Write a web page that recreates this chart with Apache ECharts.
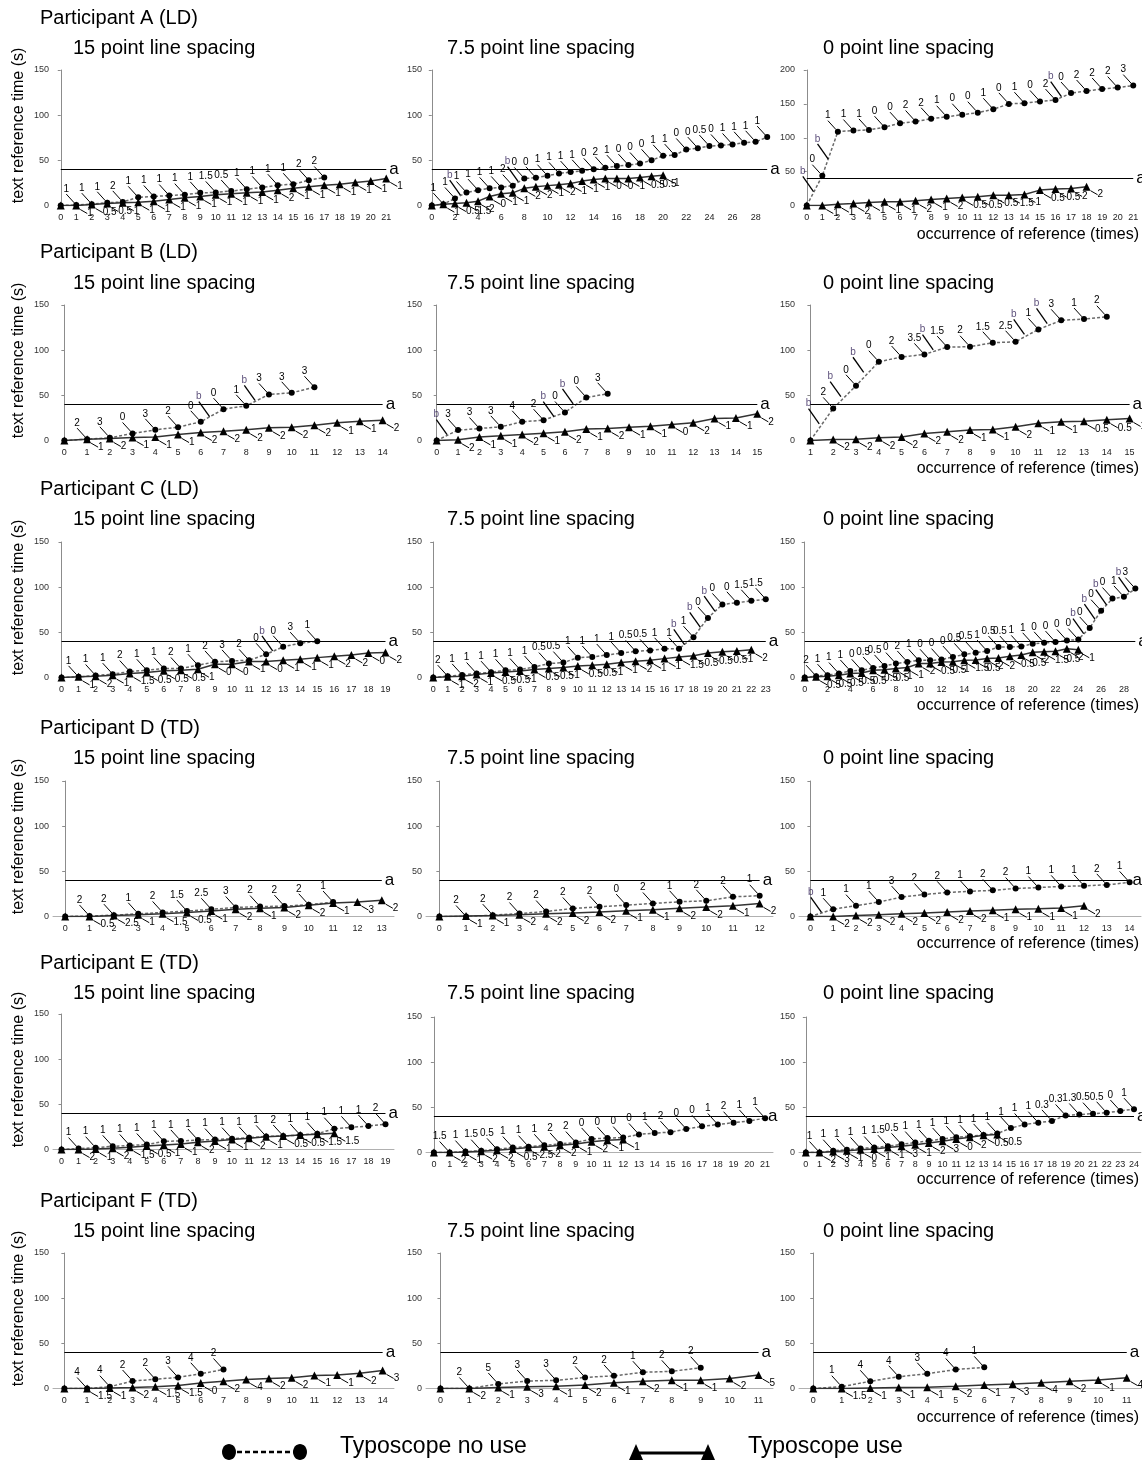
<!DOCTYPE html>
<html><head><meta charset="utf-8">
<script src="https://cdn.jsdelivr.net/npm/echarts@6/dist/echarts.min.js"></script>
<style>html,body{margin:0;padding:0;background:#fff}#c{width:1142px;height:1463px}</style>
</head><body><div id="c"></div>
<script>
// ---------------- DATA ----------------
const rowTitles = ['Participant A (LD)','Participant B (LD)','Participant C (LD)','Participant D (TD)','Participant E (TD)','Participant F (TD)'];
const colTitles = ['15 point line spacing','7.5 point line spacing','0 point line spacing'];
const yName = 'text reference time (s)';
const xName = 'occurrence of reference (times)';
const legendNames = ['Typoscope no use','Typoscope use'];
const thresholdValue = 40;

// Participant A
const A1_cats = [0,1,2,3,4,5,6,7,8,9,10,11,12,13,14,15,16,17,18,19,20,21];
const A1_noUse = [0,0.5,1.5,3,4,9,10,11,12,14,14.5,16,18,20,22.5,23.5,28,31];
const A1_noUseLbl = ['','1','1','1','2','1','1','1','1','1','1.5','0.5','1','1','1','1','2','2'];
const A1_use = [0,0,1,2.2,3,3.7,4.8,6.6,8.5,10,12,13,14,15,17,19,20.7,22.5,23.6,25.5,27,30];
const A1_useLbl = ['','1','0.5','0.5','1','1','1','1','1','1','1','1','1','1','2','1','1','1','1','1','1','1'];
const A1_b = [];

const A2_cats = [0,1,2,3,4,5,6,7,8,9,10,11,12,13,14,15,16,17,18,19,20,21,22,23,24,25,26,27,28,29];
const A2_noUse = [0,1.5,7.8,14.4,17,19,20,22,30,30.7,33,35.5,37,38.4,40,41.7,43.6,44.7,46.5,50,55,55.8,62,63.5,65.8,66.5,67.6,69.4,70.5,75.7];
const A2_noUseLbl = ['','1','1','1','1','1','1','2','0','0','1','1','1','1','0','2','1','0','0','0','1','1','0','0','0.5','0','1','1','1','1'];
const A2_use = [0,1.5,2.2,3,4.8,10,13,14,19,20.7,22,23,24.4,27,28.8,30,30,30,31,32.5,33.6];
const A2_useLbl = ['','1','0.5','1.5','2','0','1','1','2','2','1','2','1','1','1','0','0','1','0.5','0.5','1'];
const A2_b = [[2.5,11],[7.5,26]];

const A3_cats = [0,1,2,3,4,5,6,7,8,9,10,11,12,13,14,15,16,17,18,19,20,21];
const A3_noUse = [0,44,109,110.6,111.6,115.6,121.5,124,128,131,134,137,142,150,151,153.6,155.6,166,169,172,174,177];
const A3_noUseLbl = ['','0','1','1','1','0','0','2','2','1','0','0','1','0','1','0','2','0','2','2','2','3'];
const A3_use = [0,0,2,3,4.4,5.4,5.4,6.9,8.9,10.4,11.9,12.8,15.3,15.3,16.3,22.7,24.2,25.2,27.7];
const A3_useLbl = ['','1','1','2','1','1','1','2','1','2','0.5','0.5','0.5','1.5','1','0.5','0.5','2','2'];
const A3_b = [[0.45,20],[1.4,68],[16.4,160]];

// Participant B
const B1_cats = [0,1,2,3,4,5,6,7,8,9,10,11,12,13,14];
const B1_noUse = [0,1.5,3,7.8,11.8,14.8,20.7,34.7,38.4,51,52.8,59];
const B1_noUseLbl = ['','2','3','0','3','2','0','0','1','3','3','3'];
const B1_use = [0,1.5,2.2,3.3,4,6.6,8.9,10.3,11.8,14,14.8,17,19.6,21.4,22.5];
const B1_useLbl = ['','1','2','1','1','1','2','2','2','2','2','2','1','1','2'];
const B1_b = [[6.4,26],[8.4,44]];

const B2_cats = [0,1,2,3,4,5,6,7,8,9,10,11,12,13,14,15];
const B2_noUse = [0,11.5,13.3,15.1,20.7,22.5,31,47.7,51.7];
const B2_noUseLbl = ['','3','3','3','4','2','0','0','3'];
const B2_use = [0,0.7,4,5.2,6.6,8.1,9.6,12.6,13.3,14.8,15.9,17.7,19.6,24.4,25,29.5];
const B2_useLbl = ['','2','1','1','2','1','2','1','2','1','1','0','2','1','1','2'];
const B2_b = [[0.5,6],[5.5,26],[6.4,40]];

const B3_cats = [1,2,3,4,5,6,7,8,9,10,11,12,13,14,15];
const B3_noUse = [0,35.5,60.6,87.2,92.4,95.3,103.4,103.8,108.2,109.3,123,133,134.5,137];
const B3_noUseLbl = ['','2','0','0','2','3.5','1.5','2','1.5','2.5','1','3','1','2'];
const B3_use = [0,1,1.5,3,4,7.8,9.6,11.5,12.2,15.1,19.2,20.7,21.4,22.9,24.4];
const B3_useLbl = ['','2','2','2','2','2','2','1','1','2','1','1','0.5','0.5','1'];
const B3_b = [[1.4,18],[2.35,48],[3.35,75],[6.4,100],[10.4,117],[11.4,129]];

// Participant C
const C1_cats = [0,1,2,3,4,5,6,7,8,9,10,11,12,13,14,15,16,17,18,19];
const C1_noUse = [0,0.7,2.2,3.7,6.6,8,10,10,13.6,17.3,18.4,19,25.7,34,38,40];
const C1_noUseLbl = ['','1','1','1','2','1','1','2','1','2','3','2','0','0','3','1'];
const C1_use = [0,0.7,1.5,2.6,4.4,5.5,7.4,8,9.2,14.7,14.7,17.6,17.6,19,20.2,22,23.5,25,27.2,27.6];
const C1_useLbl = ['','1','2','1','1.5','0.5','0.5','0.5','1','0','0','1','0','1','1','1','2','2','0','2'];
const C1_b = [[12.4,29]];

const C2_cats = [0,1,2,3,4,5,6,7,8,9,10,11,12,13,14,15,16,17,18,19,20,21,22,23];
const C2_noUse = [0,1.5,2.9,4.4,5.9,8,8.8,11.7,15.4,16.5,22,22.7,24.9,27,29,30,31.8,31.8,44.6,65.9,80.9,82.7,84.9,86.7];
const C2_noUseLbl = ['','2','1','1','1','1','1','1','0.5','0.5','1','1','1','1','0.5','0.5','1','1','1','0','0','0','1.5','1.5'];
const C2_use = [0,0.7,1.5,3.3,5.1,6.2,7.3,8.8,9.9,11,12.8,13.5,14.6,16.5,17.9,19,20.9,22.7,24.1,27,28.5,29.3,30.7];
const C2_useLbl = ['','1','2','1','0.5','0.5','1','0.5','0.5','1','0.5','0.5','1','1','2','1','1','1.5','0.5','0.5','0.5','1','2'];
const C2_b = [[17.4,36],[18.5,55],[19.5,73]];

const C3_cats = [0,1,2,3,4,5,6,7,8,9,10,11,12,13,14,15,16,17,18,19,20,21,22,23,24,25,26,27,28,29];
const C3_noUse = [0,1.5,2.6,4.4,7.3,8,10.6,12.8,15.4,17.2,19,19,19.8,22.7,25.6,27.4,29.3,33.7,33.7,34.4,37.3,38.4,39.2,41,42,54.9,73.9,87.4,89.3,98.4];
const C3_noUseLbl = ['','2','1','1','1','0','0.5','0.5','0','2','1','0','0','0','0.5','0.5','1','0.5','0.5','1','1','0','0','0','0','0','0','0','1','3'];
const C3_use = [0,0.7,1.5,2.5,4.4,5,8,8.5,9.9,11,15.4,15.5,17.2,17.5,19,19.5,20.9,21.5,23.4,25,28,28.5,29,31.8,30.7];
const C3_useLbl = ['','0.5','0.5','0.5','0.5','0.5','0.5','0.5','1','1','2','0.5','0.5','1','1.5','0.5','2','2','0.5','0.5','2','1.5','0.5','2','1'];
const C3_b = [[24.5,48],[25.5,64],[26.5,80],[28.5,94]];

// Participant D
const D1_cats = [0,1,2,3,4,5,6,7,8,9,10,11,12,13];
const D1_noUse = [0,0.5,1.5,3,4.5,6,8,10,11,11.5,13,16];
const D1_noUseLbl = ['','2','2','1','2','1.5','2.5','3','2','2','2','1'];
const D1_use = [0,0,1,2,3,4.5,6,8,9,10,12.5,15,16,18];
const D1_useLbl = ['','0.5','2.5','1','1.5','0.5','1','2','1','2','2','1','3','2'];
const D1_b = [];

const D2_cats = [0,1,2,3,4,5,6,7,8,9,10,11,12];
const D2_noUse = [0,0,1.5,3.3,5.5,8.9,10.7,12.6,14.4,16.3,17.4,21.8,23];
const D2_noUseLbl = ['','2','2','2','2','2','2','0','2','1','2','2','1'];
const D2_use = [0,0.5,1,2,3,4,5,6.5,7.5,9,10.5,12,14.5];
const D2_useLbl = ['','1','1','2','2','2','2','1','1','2','2','1','2'];
const D2_b = [];

const D3_cats = [0,1,2,3,4,5,6,7,8,9,10,11,12,13,14];
const D3_noUse = [0,8,12,16,21.5,24.4,26.7,27.8,29,31,32,33.3,34,35,37.8];
const D3_noUseLbl = ['','1','1','1','3','2','2','1','2','2','1','1','1','2','1'];
const D3_use = [0,0,1,2,3,4,5,6,7,8,8.5,9.5,11.8];
const D3_useLbl = ['','2','2','2','2','2','2','2','1','1','1','1','2'];
const D3_b = [[0.5,4]];

// Participant E
const E1_cats = [0,1,2,3,4,5,6,7,8,9,10,11,12,13,14,15,16,17,18,19];
const E1_noUse = [0,1,2,3.5,4.5,5.5,9,9.5,10.5,11,12,13,14.5,15,16,17.5,23,24.5,26,28];
const E1_noUseLbl = ['','1','1','1','1','1','1','1','1','1','1','1','1','2','1','1','1','1','1','2'];
const E1_use = [0,0,0.5,1.5,2.5,4,5,6,8,9.5,11,12.5,14,15,16,17,18];
const E1_useLbl = ['','2','1','2','1.5','0.5','1','1','2','1','1','2','1','0.5','0.5','1.5','1.5'];
const E1_b = [];

const E2_cats = [0,1,2,3,4,5,6,7,8,9,10,11,12,13,14,15,16,17,18,19,20,21];
const E2_noUse = [0,0,1,2,3.5,5.5,6.5,8,9.5,11,15,16,16.5,20,21.5,22.5,26,29,31,33,35,38];
const E2_noUseLbl = ['','1.5','1','1.5','0.5','1','1','1','2','2','0','0','0','0','1','2','0','0','1','2','1','1'];
const E2_use = [0,0,0.5,1.5,2.5,4,5.5,6.5,8,9.5,12,13.5,14.5];
const E2_useLbl = ['','2','1','2','2','0.5','2.5','2','2','1','2','1','1'];
const E2_b = [];

const E3_cats = [0,1,2,3,4,5,6,7,8,9,10,11,12,13,14,15,16,17,18,19,20,21,22,23,24];
const E3_noUse = [0,0,2,3,4.5,5.5,7,9,11,13,15,17,18,19.5,21,27,31,33,35,41,42,43,44,46,48];
const E3_noUseLbl = ['','1','1','1','1','1','1.5','0.5','1','1','1','1','1','1','1','1','1','1','0.3','0.3','1.3','0.5','0.5','0','1'];
const E3_use = [0,0,1,2,3,4,5.5,7,8.5,10.5,12.5,15,17,19,20];
const E3_useLbl = ['','2','3','1','0','1','1','3','1','2','3','0','2','0.5','0.5'];
const E3_b = [];

// Participant F
const F1_cats = [0,1,2,3,4,5,6,7,8,9,10,11,12,13,14];
const F1_noUse = [0,0,2,8.3,10.3,12.3,16.3,21];
const F1_noUseLbl = ['','4','4','2','2','3','4','2'];
const F1_use = [0,0,0.5,1.2,2,3.2,6,8,10,11,12,14.3,15,17,20];
const F1_useLbl = ['','1.5','1','2','1.5','1.5','0','2','4','2','2','1','1','2','3'];
const F1_b = [];

const F2_cats = [0,1,2,3,4,5,6,7,8,9,10,11];
const F2_noUse = [0,0,5,8.3,9,12.3,14,18,19,23];
const F2_noUseLbl = ['','2','5','3','3','2','2','1','2','2'];
const F2_use = [0,0,1.2,2,2.4,4,6.3,8,9,9,11,15];
const F2_useLbl = ['','2','1','3','1','2','1','2','1','1','2','5'];
const F2_b = [];

const F3_cats = [0,1,2,3,4,5,6,7,8,9,10,11];
const F3_noUse = [0,2,8,13,16.3,21,23.4];
const F3_noUseLbl = ['','1','4','4','3','4','1'];
const F3_use = [0,0,0.5,1,1.5,2.5,4,5,6.5,8,9.5,12];
const F3_useLbl = ['','1.5','1','1','1','2','1','3','4','2','1','4'];
const F3_b = [];

const yMaxA3 = 200, yMaxDefault = 150, yInterval = 50;

// ---------------- LAYOUT ----------------
const panels = [
  [A1_cats,A1_noUse,A1_noUseLbl,A1_use,A1_useLbl,A1_b,yMaxDefault,0],
  [A2_cats,A2_noUse,A2_noUseLbl,A2_use,A2_useLbl,A2_b,yMaxDefault,1],
  [A3_cats,A3_noUse,A3_noUseLbl,A3_use,A3_useLbl,A3_b,yMaxA3,0],
  [B1_cats,B1_noUse,B1_noUseLbl,B1_use,B1_useLbl,B1_b,yMaxDefault,0],
  [B2_cats,B2_noUse,B2_noUseLbl,B2_use,B2_useLbl,B2_b,yMaxDefault,0],
  [B3_cats,B3_noUse,B3_noUseLbl,B3_use,B3_useLbl,B3_b,yMaxDefault,0],
  [C1_cats,C1_noUse,C1_noUseLbl,C1_use,C1_useLbl,C1_b,yMaxDefault,0],
  [C2_cats,C2_noUse,C2_noUseLbl,C2_use,C2_useLbl,C2_b,yMaxDefault,0],
  [C3_cats,C3_noUse,C3_noUseLbl,C3_use,C3_useLbl,C3_b,yMaxDefault,1],
  [D1_cats,D1_noUse,D1_noUseLbl,D1_use,D1_useLbl,D1_b,yMaxDefault,0],
  [D2_cats,D2_noUse,D2_noUseLbl,D2_use,D2_useLbl,D2_b,yMaxDefault,0],
  [D3_cats,D3_noUse,D3_noUseLbl,D3_use,D3_useLbl,D3_b,yMaxDefault,0],
  [E1_cats,E1_noUse,E1_noUseLbl,E1_use,E1_useLbl,E1_b,yMaxDefault,0],
  [E2_cats,E2_noUse,E2_noUseLbl,E2_use,E2_useLbl,E2_b,yMaxDefault,0],
  [E3_cats,E3_noUse,E3_noUseLbl,E3_use,E3_useLbl,E3_b,yMaxDefault,0],
  [F1_cats,F1_noUse,F1_noUseLbl,F1_use,F1_useLbl,F1_b,yMaxDefault,0],
  [F2_cats,F2_noUse,F2_noUseLbl,F2_use,F2_useLbl,F2_b,yMaxDefault,0],
  [F3_cats,F3_noUse,F3_noUseLbl,F3_use,F3_useLbl,F3_b,yMaxDefault,0]
];
const colLeft = [53, 426, 799];
const colWidth = [341, 347, 342];
const gridTop = [[70,70,70],[305,305,305],[542,542,542],[781,781,781],[1014,1017,1017],[1253,1253,1253]];
const gridH = 135.5;
const titleY = [19, 253, 490, 729, 964, 1202];
const subY = [49, 284, 520, 759, 994, 1232];
const xNameY = [235, 469, 706, 944, 1180, 1418];
const subX = [73, 447, 823];
const FONT = "'Liberation Sans', Arial, sans-serif";
const SMALL = "'Liberation Sans Narrow','Liberation Sans', Arial, sans-serif";

const grids = [], xAxes = [], yAxes = [], series = [], graphics = [];

function items(vals, lbls) {
  return vals.map((v, j) => {
    const t = lbls[j] || '';
    return t ? { value: [j, v], label: { show: true, formatter: t } }
             : { value: [j, v], label: { show: false } };
  });
}

panels.forEach((p, i) => {
  const [cats, noUse, noUseLbl, use, useLbl, bMarks, ymax, skip] = p;
  const r = Math.floor(i / 3), c = i % 3;
  const n = cats.length;
  grids.push({ left: colLeft[c], top: gridTop[r][c], width: (i === 4 ? 342 : colWidth[c]), height: gridH });
  xAxes.push({
    type: 'category', gridIndex: i, data: cats.map(String), boundaryGap: true,
    axisLine: { show: r >= 3, lineStyle: { color: '#b0b0b0', width: 1 } },
    axisTick: { show: false },
    axisLabel: { fontSize: 9, color: '#222', interval: skip, margin: 8, fontFamily: SMALL }
  });
  xAxes.push({ type: 'value', gridIndex: i, min: -0.5, max: n - 0.5, show: false });
  yAxes.push({
    type: 'value', gridIndex: i, min: 0, max: ymax, interval: yInterval,
    axisLine: { show: true, lineStyle: { color: '#8c8c8c' } },
    axisTick: { show: true, length: 3, lineStyle: { color: '#8c8c8c' } },
    splitLine: { show: false },
    axisLabel: { fontSize: 9, color: '#333', margin: 4, fontFamily: SMALL }
  });
  const xi = 2 * i + 1;
  series.push({
    name: legendNames[0], type: 'line', xAxisIndex: xi, yAxisIndex: i,
    data: items(noUse, noUseLbl),
    symbol: 'circle', symbolSize: 6, itemStyle: { color: '#000' },
    lineStyle: { color: '#6a6a6a', width: 1.5, type: [3, 2] },
    label: { show: true, position: 'top', distance: 4, fontSize: 10, color: '#000', fontFamily: SMALL },
    labelLayout: { dx: -10, dy: -4 },
    labelLine: { show: true, lineStyle: { color: '#000', width: 1 } },
    z: 3, animation: false,
    markLine: {
      silent: true, symbol: ['none', 'none'], animation: false,
      lineStyle: { color: '#000', width: 1.2, type: 'solid' },
      label: { show: true, position: 'end', formatter: 'a', fontSize: 17, color: '#000', distance: 3, fontFamily: FONT },
      data: [[{ coord: [0, thresholdValue] }, { coord: [n - 1, thresholdValue] }]]
    }
  });
  series.push({
    name: legendNames[1], type: 'line', xAxisIndex: xi, yAxisIndex: i,
    data: items(use, useLbl),
    symbol: 'triangle', symbolSize: 8, itemStyle: { color: '#000' },
    lineStyle: { color: '#333', width: 1.5 },
    label: { show: true, position: 'right', distance: 3, fontSize: 10, color: '#000', fontFamily: SMALL },
    labelLayout: { dx: 4, dy: 8 },
    labelLine: { show: true, lineStyle: { color: '#000', width: 1 } },
    z: 3, animation: false
  });
  if (bMarks.length) {
    series.push({
      type: 'scatter', xAxisIndex: xi, yAxisIndex: i,
      data: bMarks.map(d => [d[0] - cats[0], d[1]]),
      symbol: 'circle', symbolSize: 1, itemStyle: { color: 'rgba(0,0,0,0)' },
      label: { show: true, formatter: 'b', position: 'top', distance: 2, fontSize: 10, color: '#35245a', fontFamily: SMALL },
      labelLayout: { dx: -11, dy: -13 },
      labelLine: { show: true, lineStyle: { color: '#000', width: 1.3 } },
      z: 4, animation: false
    });
  }
});

// titles / axis names
rowTitles.forEach((t, r) => {
  graphics.push({ type: 'text', left: 40, top: titleY[r] - 11, style: { text: t, font: '20px ' + FONT, fill: '#000' } });
  colTitles.forEach((ct, c) => {
    graphics.push({ type: 'text', left: subX[c], top: subY[r] - 11, style: { text: ct, font: '20px ' + FONT, fill: '#000' } });
  });
  const cy = gridTop[r][0] + gridH - 80;
  graphics.push({ type: 'text', x: 19, y: cy, rotation: Math.PI / 2,
    style: { text: yName, font: '16px ' + FONT, fill: '#000', textAlign: 'center', textVerticalAlign: 'middle' } });
  graphics.push({ type: 'text', x: 1139, y: xNameY[r],
    style: { text: xName, font: '16px ' + FONT, fill: '#000', textAlign: 'right', textVerticalAlign: 'middle' } });
});

// legend (decorative glyphs)
graphics.push({ type: 'line', shape: { x1: 229, y1: 1452, x2: 300, y2: 1452 }, style: { stroke: '#000', lineWidth: 2.5, lineDash: [5, 3] } });
graphics.push({ type: 'ellipse', shape: { cx: 229, cy: 1452, rx: 7, ry: 8 }, style: { fill: '#000' } });
graphics.push({ type: 'ellipse', shape: { cx: 300, cy: 1452, rx: 7, ry: 8 }, style: { fill: '#000' } });
graphics.push({ type: 'text', left: 340, top: 1435, style: { text: legendNames[0], font: '23px ' + FONT, fill: '#000' } });
graphics.push({ type: 'line', shape: { x1: 636, y1: 1453, x2: 708, y2: 1453 }, style: { stroke: '#000', lineWidth: 3 } });
graphics.push({ type: 'polygon', shape: { points: [[636, 1444], [629, 1460], [643, 1460]] }, style: { fill: '#000' } });
graphics.push({ type: 'polygon', shape: { points: [[708, 1444], [701, 1460], [715, 1460]] }, style: { fill: '#000' } });
graphics.push({ type: 'text', left: 748, top: 1435, style: { text: legendNames[1], font: '23px ' + FONT, fill: '#000' } });

const chart = echarts.init(document.getElementById('c'), null, { renderer: 'canvas' });
chart.setOption({
  animation: false,
  backgroundColor: '#fff',
  textStyle: { fontFamily: FONT },
  grid: grids, xAxis: xAxes, yAxis: yAxes, series: series,
  graphic: graphics
});
</script></body></html>
